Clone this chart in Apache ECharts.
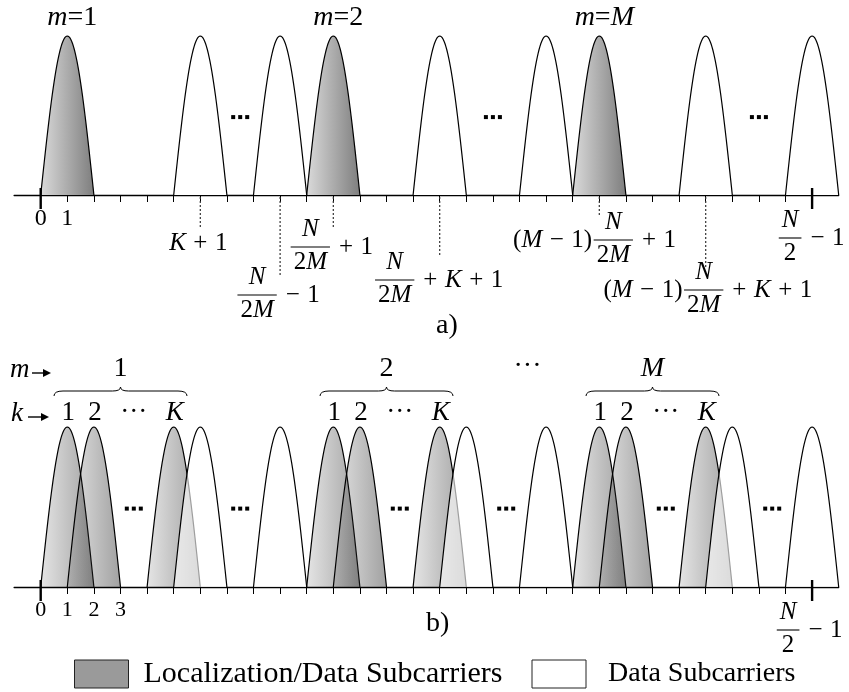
<!DOCTYPE html>
<html>
<head>
<meta charset="utf-8">
<script src="https://cdn.jsdelivr.net/npm/echarts@6/dist/echarts.min.js"></script>
<style>
  html, body { margin: 0; padding: 0; background: #fff; }
  #chart { width: 849px; height: 692px; }
</style>
</head>
<body>
<div id="chart"></div>
<script>
// ---- subcarrier index axis (shared by both panels) ----
const axisMin = -1;
const axisMax = 30;
const lastIndex = 29;            // index N/2 - 1
const peak = 1;                  // normalised main-lobe height

// ---- a) one localization subcarrier per group ----
const aLocal = [1, 11, 21];
const aData = [6, 9, 15, 19, 25, 29];
const aGroupNames = ['m=1', 'm=2', 'm=M'];
const aGaps = [7.5, 17, 27];
const aTickLabels = [0, 1];
const aMarked = [6, 9, 11, 15, 21, 25, 29];
const aMarkedText = [
  'K + 1',
  '{N|2M} − 1',
  '{N|2M} + 1',
  '{N|2M} + K + 1',
  '(M − 1){N|2M} + 1',
  '(M − 1){N|2M} + K + 1',
  '{N|2} − 1'
];

// ---- b) K localization subcarriers per group ----
const bLocal = [1, 2, 5, 11, 12, 15, 21, 22, 25];
const bLocalNames = ['1', '2', 'K', '1', '2', 'K', '1', '2', 'K'];
const bData = [6, 9, 16, 19, 26, 29];
const bGaps = [3.5, 7.5, 13.5, 17.5, 23.5, 27.5];
const bNameGaps = [3.5, 13.5, 23.5];
const bGroupCenters = [3, 13, 23];
const bGroupNames = ['1', '2', 'M'];
const bGroupGaps = [18.3];
const bTickLabels = [0, 1, 2, 3];
const bMarked = [29];
const bMarkedText = ['{N|2} − 1'];

// ---- label placement (pixels relative to tick position / axis line) ----
const aMarkLayout = [
  { drop: 33, dx: -2,  dy: 48 },
  { drop: 82, dx: -23, dy: 100 },
  { drop: 33, dx: -23, dy: 52 },
  { drop: 62, dx: -45, dy: 85 },
  { drop: 22, dx: 14,  dy: 45 },
  { drop: 73, dx: -2,  dy: 95 },
  { drop: 0,  dx: -22, dy: 43 }
];
const bMarkLayout = [{ drop: 0, dx: -24, dy: 43 }];

const serif = "'Liberation Serif', 'Times New Roman', serif";
const smallTicks = [];
for (let i = 1; i < lastIndex; i++) smallTicks.push(i);

// ---- text helpers: letters italic, digits/operators upright, spaces as fixed gaps ----
const measureCtx = document.createElement('canvas').getContext('2d');
const spaceEm = 0.3;
function fontOf(italic, size) { return (italic ? 'italic ' : '') + size + 'px ' + serif; }
function textRuns(str) {
  const out = [];
  let cur = null;
  for (const ch of str) {
    const kind = ch === ' ' ? 'sp' : (/[A-Za-z]/.test(ch) ? 'it' : 'up');
    if (!cur || cur.kind !== kind) { cur = { s: '', kind }; out.push(cur); }
    cur.s += ch;
  }
  return out;
}
function runWidth(r, size) {
  if (r.kind === 'sp') return r.s.length * spaceEm * size;
  measureCtx.font = fontOf(r.kind === 'it', size);
  return measureCtx.measureText(r.s).width;
}
function runsWidth(str, size) {
  let w = 0;
  for (const r of textRuns(str)) w += runWidth(r, size);
  return w;
}
function runEls(str, x0, y, size) {
  const els = [];
  let x = x0;
  for (const r of textRuns(str)) {
    if (r.kind !== 'sp') {
      els.push({ type: 'text', x: x, y: y,
        style: { text: r.s, font: fontOf(r.kind === 'it', size), fill: '#000',
                 textAlign: 'left', align: 'left', textVerticalAlign: 'middle', verticalAlign: 'middle' } });
    }
    x += runWidth(r, size);
  }
  return els;
}
function mathParts(spec) {
  const parts = [];
  spec.split(/(\{[^}]*\})/).forEach(tok => {
    if (!tok) return;
    if (tok[0] === '{') parts.push({ frac: tok.slice(1, -1).split('|') });
    else parts.push({ text: tok });
  });
  return parts;
}
function mathLabel(spec, size) {
  const els = [];
  let x = 0, anchor = null;
  for (const part of mathParts(spec)) {
    if (part.frac) {
      const [n, d] = part.frac;
      const wn = runsWidth(n, size), wd = runsWidth(d, size);
      const w = Math.max(wn, wd) + 9;
      const cx = x + w / 2;
      els.push(...runEls(n, cx - wn / 2, -18, size));
      els.push(...runEls(d, cx - wd / 2, 15, size));
      els.push({ type: 'line', shape: { x1: x + 1.5, y1: 0, x2: x + w - 1.5, y2: 0 },
                 style: { stroke: '#000', lineWidth: 1.1 } });
      if (anchor === null) anchor = cx;
      x += w;
    } else {
      els.push(...runEls(part.text, x, 0, size));
      x += runsWidth(part.text, size);
    }
  }
  return { els, width: x, anchor: anchor === null ? x / 2 : anchor };
}

// ---- series builders ----
function lobeSeries(name, grid, centers, fill) {
  return {
    type: 'custom', name, xAxisIndex: grid, yAxisIndex: grid, clip: false,
    itemStyle: { color: name === 'Data Subcarriers' ? '#fff' : '#9a9a9a' },
    data: centers.map(c => [c, peak]),
    renderItem: (params, api) => {
      const c = api.value(0), h = api.value(1);
      const pts = [];
      for (let s = 0; s <= 60; s++) {
        const u = -1 + s / 30;
        pts.push(api.coord([c + u, h * Math.cos(Math.PI * u / 2)]));
      }
      return { type: 'group', children: [
        { type: 'polygon', shape: { points: pts }, style: { fill: fill(), stroke: null } },
        { type: 'polyline', shape: { points: pts }, style: { fill: null, stroke: '#000', lineWidth: 1.2 } }
      ] };
    }
  };
}
function bigTickSeries(grid) {
  return {
    type: 'custom', xAxisIndex: grid, yAxisIndex: grid, clip: false, silent: true,
    data: [[0, 0], [lastIndex, 0]],
    renderItem: (params, api) => {
      const p = api.coord([api.value(0), 0]);
      return { type: 'line', shape: { x1: p[0], y1: p[1] - 7, x2: p[0], y2: p[1] + 14 },
               style: { stroke: '#000', lineWidth: 2.4 } };
    }
  };
}
// index numbers printed under the axis
function tickLabelSeries(grid, values, size, dyPx) {
  return {
    type: 'custom', xAxisIndex: grid, yAxisIndex: grid, clip: false, silent: true,
    data: values.map(v => [v, 0]),
    renderItem: (params, api) => {
      const p = api.coord([api.value(0), 0]);
      return { type: 'text', x: p[0], y: p[1] + dyPx,
        style: { text: String(api.value(0)), font: size + 'px ' + serif, fill: '#000',
                 textAlign: 'center', align: 'center', textVerticalAlign: 'middle', verticalAlign: 'middle' } };
    }
  };
}
function gapDotsSeries(grid, gaps) {
  return {
    type: 'custom', xAxisIndex: grid, yAxisIndex: grid, clip: false, silent: true,
    data: gaps.map(g => [g, 0.49]),
    renderItem: (params, api) => {
      const p = api.coord([api.value(0), api.value(1)]);
      const kids = [];
      for (let k = -1; k <= 1; k++) {
        kids.push({ type: 'rect', shape: { x: p[0] + k * 7 - 2, y: p[1] - 2, width: 4, height: 4 },
                    style: { fill: '#000' } });
      }
      return { type: 'group', children: kids };
    }
  };
}
function markSeries(grid, idx, texts, layout) {
  return {
    type: 'custom', xAxisIndex: grid, yAxisIndex: grid, clip: false, silent: true,
    data: idx.map(i => [i, 0]),
    renderItem: (params, api) => {
      const p = api.coord([api.value(0), 0]);
      const lay = layout[params.dataIndex];
      const lab = mathLabel(texts[params.dataIndex], 25);
      const kids = [];
      if (lay.drop > 0) {
        kids.push({ type: 'line', shape: { x1: p[0], y1: p[1] + 2, x2: p[0], y2: p[1] + lay.drop },
                    style: { stroke: '#333', lineWidth: 1.2, lineDash: [2, 2] } });
      }
      kids.push({ type: 'group', x: p[0] + lay.dx - lab.anchor, y: p[1] + lay.dy, children: lab.els });
      return { type: 'group', children: kids };
    }
  };
}
// text placed above the lobe peak level at a given index
function headSeries(grid, xs, texts, size, dxPx, dyPx) {
  return {
    type: 'custom', xAxisIndex: grid, yAxisIndex: grid, clip: false, silent: true,
    data: xs.map(x => [x, peak]),
    renderItem: (params, api) => {
      const p = api.coord([api.value(0), api.value(1)]);
      const lab = mathLabel(texts[params.dataIndex], size);
      return { type: 'group', x: p[0] + dxPx - lab.width / 2, y: p[1] + dyPx, children: lab.els };
    }
  };
}
function braceSeries(grid, centers) {
  return {
    type: 'custom', xAxisIndex: grid, yAxisIndex: grid, clip: false, silent: true,
    data: centers.map(c => [c, peak]),
    renderItem: (params, api) => {
      const c = api.value(0);
      const l = api.coord([c - 2.5, peak]), m = api.coord([c, peak]), r = api.coord([c + 2.5, peak]);
      const y = m[1] - 36;
      const d = `M ${l[0]} ${y + 5} Q ${l[0]} ${y} ${l[0] + 9} ${y} L ${m[0] - 8} ${y} ` +
                `Q ${m[0]} ${y} ${m[0]} ${y - 4} Q ${m[0]} ${y} ${m[0] + 8} ${y} ` +
                `L ${r[0] - 9} ${y} Q ${r[0]} ${y} ${r[0]} ${y + 5}`;
      return { type: 'path', shape: { pathData: d }, style: { fill: null, stroke: '#000', lineWidth: 1 } };
    }
  };
}

function xAxisCfg(grid) {
  return {
    type: 'value', gridIndex: grid, min: axisMin, max: axisMax, interval: 1,
    axisLine: { show: true, onZero: false, lineStyle: { color: '#000', width: 1.3 } },
    axisTick: { show: true, customValues: smallTicks, length: 7, lineStyle: { color: '#000', width: 1 } },
    axisLabel: { show: false },
    splitLine: { show: false }
  };
}
function yAxisCfg(grid) {
  return { type: 'value', gridIndex: grid, min: 0, max: 1, show: false, splitLine: { show: false } };
}

const grayA = () => new echarts.graphic.LinearGradient(0, 0, 1, 0, [
  { offset: 0, color: '#dadada' }, { offset: 1, color: '#7e7e7e' }]);
const grayB = () => new echarts.graphic.LinearGradient(0, 0, 1, 0, [
  { offset: 0, color: 'rgba(50,50,50,0.13)' }, { offset: 1, color: 'rgba(50,50,50,0.46)' }]);
const whiteA = () => '#fff';
const whiteB = () => 'rgba(255,255,255,0.62)';

const chart = echarts.init(document.getElementById('chart'), null, { renderer: 'canvas' });
chart.setOption({
  animation: false,
  backgroundColor: '#fff',
  grid: [
    { left: 14.1, right: 10.3, top: 36, height: 159 },
    { left: 14.1, right: 10.3, top: 427, height: 160 }
  ],
  xAxis: [xAxisCfg(0), xAxisCfg(1)],
  yAxis: [yAxisCfg(0), yAxisCfg(1)],
  legend: {
    left: 74, top: 659, padding: 0, itemWidth: 54, itemHeight: 28, itemGap: 29, icon: 'rect', selectedMode: false,
    textStyle: { fontFamily: serif, fontSize: 30, color: '#000', padding: [0, 0, 0, 10] },
    data: [
      { name: 'Localization/Data Subcarriers', itemStyle: { color: '#9a9a9a', borderColor: '#222', borderWidth: 1 } },
      { name: 'Data Subcarriers', itemStyle: { color: '#fff', borderColor: '#222', borderWidth: 1 },
        textStyle: { fontSize: 28, padding: [0, 0, 0, 17] } }
    ]
  },
  graphic: [
    { type: 'text', left: 436, top: 312, style: { text: 'a)', font: '28px ' + serif, fill: '#000' } },
    { type: 'text', left: 426, top: 610, style: { text: 'b)', font: '28px ' + serif, fill: '#000' } },
    { type: 'text', left: 10, top: 356, style: { text: 'm', font: 'italic 27px ' + serif, fill: '#000' } },
    { type: 'line', shape: { x1: 32, y1: 373, x2: 45, y2: 373 }, style: { stroke: '#000', lineWidth: 1.4 } },
    { type: 'polygon', shape: { points: [[43, 369], [51, 373], [43, 377]] }, style: { fill: '#000' } },
    { type: 'text', left: 11, top: 400, style: { text: 'k', font: 'italic 27px ' + serif, fill: '#000' } },
    { type: 'line', shape: { x1: 28, y1: 417, x2: 43, y2: 417 }, style: { stroke: '#000', lineWidth: 1.4 } },
    { type: 'polygon', shape: { points: [[41, 413], [49, 417], [41, 421]] }, style: { fill: '#000' } }
  ],
  series: [
    // panel a
    lobeSeries('Localization/Data Subcarriers', 0, aLocal, grayA),
    lobeSeries('Data Subcarriers', 0, aData, whiteA),
    bigTickSeries(0),
    tickLabelSeries(0, aTickLabels, 24, 24),
    gapDotsSeries(0, aGaps),
    markSeries(0, aMarked, aMarkedText, aMarkLayout),
    headSeries(0, aLocal, aGroupNames, 28, 5, -18),
    // panel b
    lobeSeries('Localization/Data Subcarriers', 1, bLocal, grayB),
    lobeSeries('Data Subcarriers', 1, bData, whiteB),
    bigTickSeries(1),
    tickLabelSeries(1, bTickLabels, 22, 23),
    gapDotsSeries(1, bGaps),
    markSeries(1, bMarked, bMarkedText, bMarkLayout),
    headSeries(1, bLocal, bLocalNames, 27, 1, -14),
    headSeries(1, bNameGaps, ['···', '···', '···'], 27, 0, -14),
    headSeries(1, bGroupCenters, bGroupNames, 28, 0, -58),
    headSeries(1, bGroupGaps, ['···'], 28, 0, -60),
    braceSeries(1, bGroupCenters)
  ]
});
</script>
</body>
</html>
